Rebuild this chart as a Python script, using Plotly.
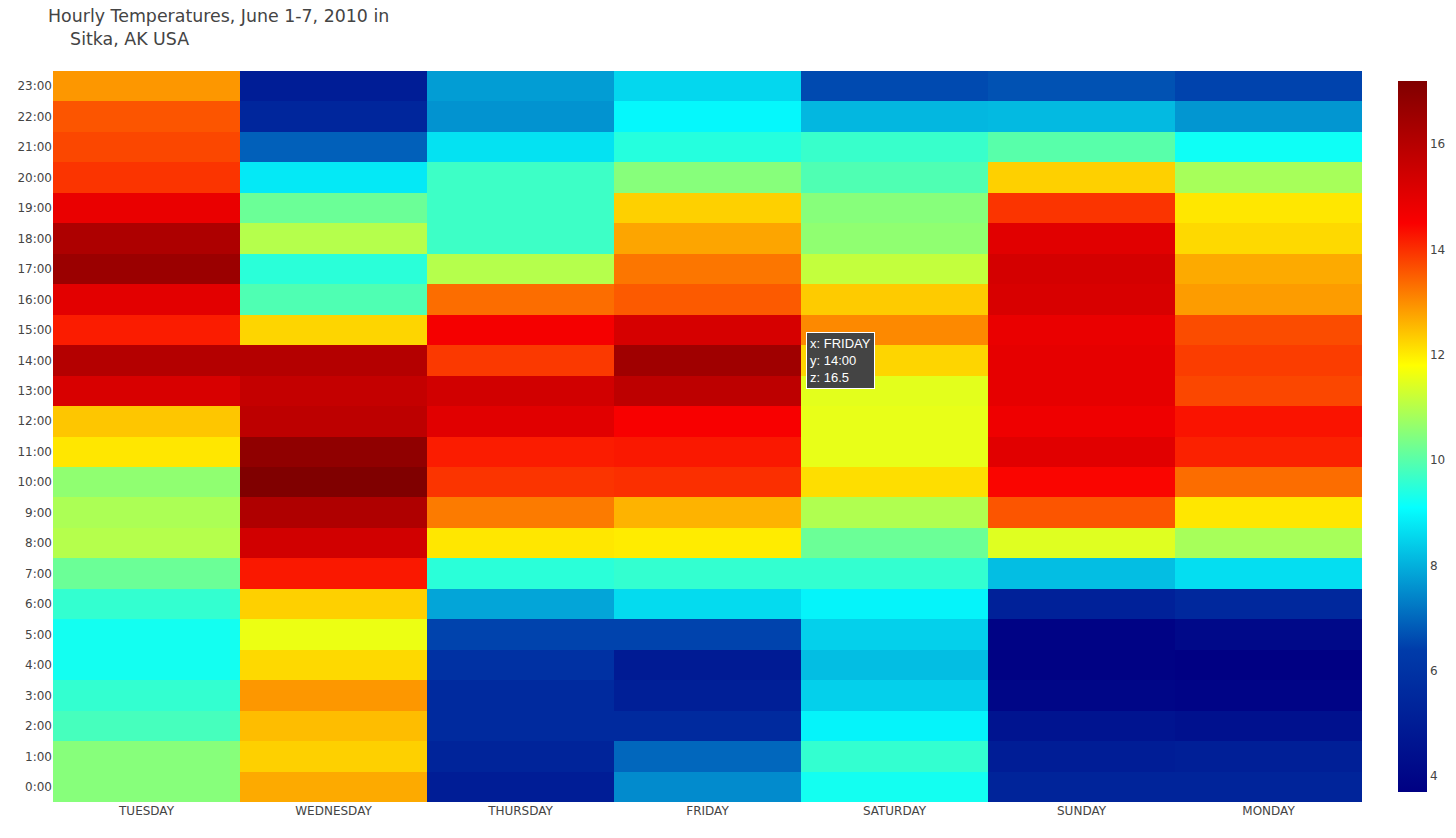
import plotly.graph_objects as go

days = ["TUESDAY", "WEDNESDAY", "THURSDAY", "FRIDAY", "SATURDAY", "SUNDAY", "MONDAY"]
hours = [f"{h}:00" for h in range(24)]

# temperatures (deg C) by hour 0..23 for each day
tuesday = [10.5, 10.5, 9.8, 9.6, 9.25, 9.25, 9.6, 10.2, 11.0, 10.9, 10.6, 12.05,
           12.4, 15.25, 16.05, 14.2, 15.0, 16.6, 16.2, 14.85, 13.95, 13.75, 13.6, 12.9]
wednesday = [12.7, 12.3, 12.5, 12.9, 12.2, 11.6, 12.3, 14.25, 15.4, 16.15, 17.2, 16.85,
             15.85, 15.7, 16.05, 12.25, 9.9, 9.5, 11.0, 10.2, 8.8, 6.9, 5.4, 5.0]
thursday = [5.0, 5.3, 5.6, 5.6, 5.9, 6.5, 7.85, 9.5, 12.05, 13.2, 13.95, 14.2,
            15.05, 15.4, 13.9, 14.6, 13.35, 11.0, 9.7, 9.7, 9.7, 8.7, 7.6, 7.75]
friday = [7.5, 7.0, 5.6, 5.1, 4.9, 6.5, 8.6, 9.6, 12.0, 12.6, 14.0, 14.25,
          14.55, 15.85, 16.5, 15.3, 13.55, 13.25, 12.75, 12.3, 10.5, 9.45, 9.0, 8.55]
saturday = [9.25, 9.6, 8.95, 8.45, 8.2, 8.45, 8.95, 9.6, 10.2, 10.95, 12.15, 11.55,
            11.55, 11.5, 12.25, 13.05, 12.35, 11.15, 10.6, 10.5, 9.9, 9.65, 8.1, 6.6]
sunday = [5.3, 5.0, 4.6, 3.95, 3.8, 3.85, 5.2, 8.2, 11.45, 13.6, 14.45, 15.05,
          14.75, 14.95, 14.95, 14.85, 15.25, 15.35, 15.05, 13.95, 12.3, 10.0, 8.15, 6.7]
monday = [5.3, 5.1, 4.45, 3.9, 3.7, 4.1, 5.5, 8.65, 10.85, 12.05, 13.35, 14.15,
          14.3, 13.75, 13.85, 13.7, 12.85, 12.7, 12.2, 12.05, 10.85, 9.2, 7.65, 6.5]

columns = [tuesday, wednesday, thursday, friday, saturday, sunday, monday]
z = [[col[h] for col in columns] for h in range(24)]

fig = go.Figure(go.Heatmap(
    z=z, x=days, y=hours, colorscale="Jet",
    colorbar=dict(thickness=29, outlinewidth=0),
))

nb = "\u00a0"
fig.update_layout(
    width=1440, height=822,
    font=dict(family="DejaVu Sans, Verdana, sans-serif", color="#444", size=12),
    title=dict(text="Hourly Temperatures, June 1-7, 2010 in<br>" + nb * 4 + "Sitka, AK USA",
               x=40 / 1440, xanchor="left", xref="container",
               y=1 - 14 / 822, yanchor="top", yref="container",
               font=dict(size=17.4, color="#444")),
    margin=dict(l=45, r=86, t=63, b=28, autoexpand=False),
    plot_bgcolor="white", paper_bgcolor="white",
    xaxis=dict(showgrid=False, zeroline=False, tickfont=dict(size=12)),
    yaxis=dict(showgrid=False, zeroline=False, tickfont=dict(size=12)),
)

# hover label as shown in the reference (FRIDAY 14:00)
fig.add_annotation(
    x=3.5, y=14, xref="x", yref="y", xanchor="left", xshift=5,
    text="x: FRIDAY<br>y: 14:00<br>z: 16.5", showarrow=False, align="left",
    bgcolor="#444", bordercolor="white", borderwidth=1, borderpad=3,
    font=dict(color="white", size=13, family="Arial"),
)

fig.write_html("out.html")
